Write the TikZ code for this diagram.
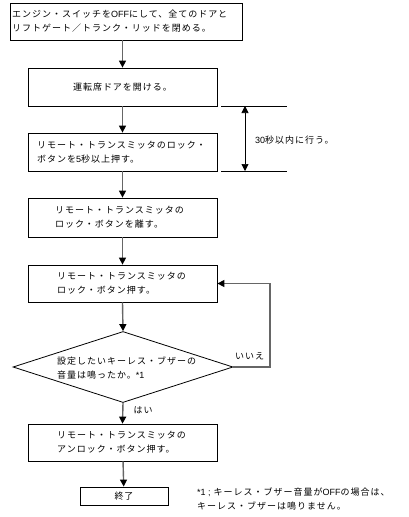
\documentclass[tikz,border=0pt]{standalone}
\usepackage{fontspec}
\setmainfont[LetterSpace=11]{Noto Sans CJK JP}
\newfontfamily\latin{Liberation Sans}
\usetikzlibrary{arrows.meta,shapes.geometric}
\begin{document}
\begin{tikzpicture}[x=1pt,y=-1pt,
  font=\fontsize{9}{14}\selectfont,
  box/.style={draw=black,line width=0.8pt,minimum width=189pt,minimum height=38pt,inner sep=0pt,align=left},
  conn/.style={draw=black!60,line width=1.4pt,-{Triangle[color=black,width=7pt,length=7pt]}},
  thin/.style={draw=black,line width=0.7pt},
  lbl/.style={inner sep=0pt,align=left,anchor=west}]
\useasboundingbox (0,0) rectangle (408,517);
\node[box,minimum width=232pt,minimum height=37pt] (b1) at (126,21.5) {};
\node[lbl] (t1) at (12,21.5) {エンジン・スイッチを{\latin OFF}にして、全てのドアと\\リフトゲート／トランク・リッドを閉める。};
\node[box] (b2) at (122.5,87) {運転席ドアを開ける。};
\node[box] (b3) at (122.5,152) {};
\node[lbl] (t3) at (37,152) {リモート・トランスミッタのロック・\\ボタンを{\latin 5}秒以上押す。};
\node[box,minimum height=39pt] (b4) at (122.5,217.5) {};
\node[lbl] (t4) at (55,217.5) {リモート・トランスミッタの\\ロック・ボタンを離す。};
\node[box,minimum height=37pt] (b5) at (122.5,283.5) {};
\node[lbl] (t5) at (57,283.5) {リモート・トランスミッタの\\ロック・ボタン押す。};
\node[diamond,draw=black,line width=0.8pt,minimum width=220pt,minimum height=71pt,inner sep=0pt] (d) at (123,367) {};
\node[lbl] (td) at (57,368) {設定したいキーレス・ブザーの\\音量は鳴ったか。{\latin *1}};
\node[box,minimum height=37pt] (b6) at (122.5,442.5) {};
\node[lbl] (t6) at (57,442.5) {リモート・トランスミッタの\\アンロック・ボタン押す。};
\node[box,minimum width=88pt,minimum height=18pt] (b7) at (124,496) {終了};
\node[lbl] (fn) at (197,499) {{\latin *1 ;} キーレス・ブザー音量が{\latin OFF}の場合は、\\キーレス・ブザーは鳴りません。};
% connectors
\draw[conn] (b2.north |- b1.south) -- (b2.north);
\draw[conn] (b2) -- (b3);
\draw[conn] (b3) -- (b4);
\draw[conn] (b4) -- (b5);
\draw[conn] (b5.south) -- (d.north);
\draw[conn] (d.south) -- node[lbl,pos=0.35,xshift=10pt] (yes) {はい} (b6.north);
\draw[conn] (b6) -- (b7);
\coordinate (lp) at (270,367);
\draw[conn] (d.east) -- (lp) -- (lp |- b5.east) -- (b5.east);
\node[lbl] (no) at (235,356) {いいえ};
% 30 sec marker
\coordinate (m1a) at (221,106);
\coordinate (m1b) at (287,106);
\coordinate (m2a) at (221,171);
\coordinate (m2b) at (287,171);
\coordinate (va) at (245,106);
\coordinate (vb) at (245,171);
\draw[thin] (m1a) -- (m1b);
\draw[thin] (m2a) -- (m2b);
\draw[thin,{Triangle[width=7pt,length=7pt]}-{Triangle[width=7pt,length=7pt]}] (va) -- (vb);
\node[lbl] (sec) at (255,140) {{\latin 30}秒以内に行う。};
\end{tikzpicture}
\end{document}
